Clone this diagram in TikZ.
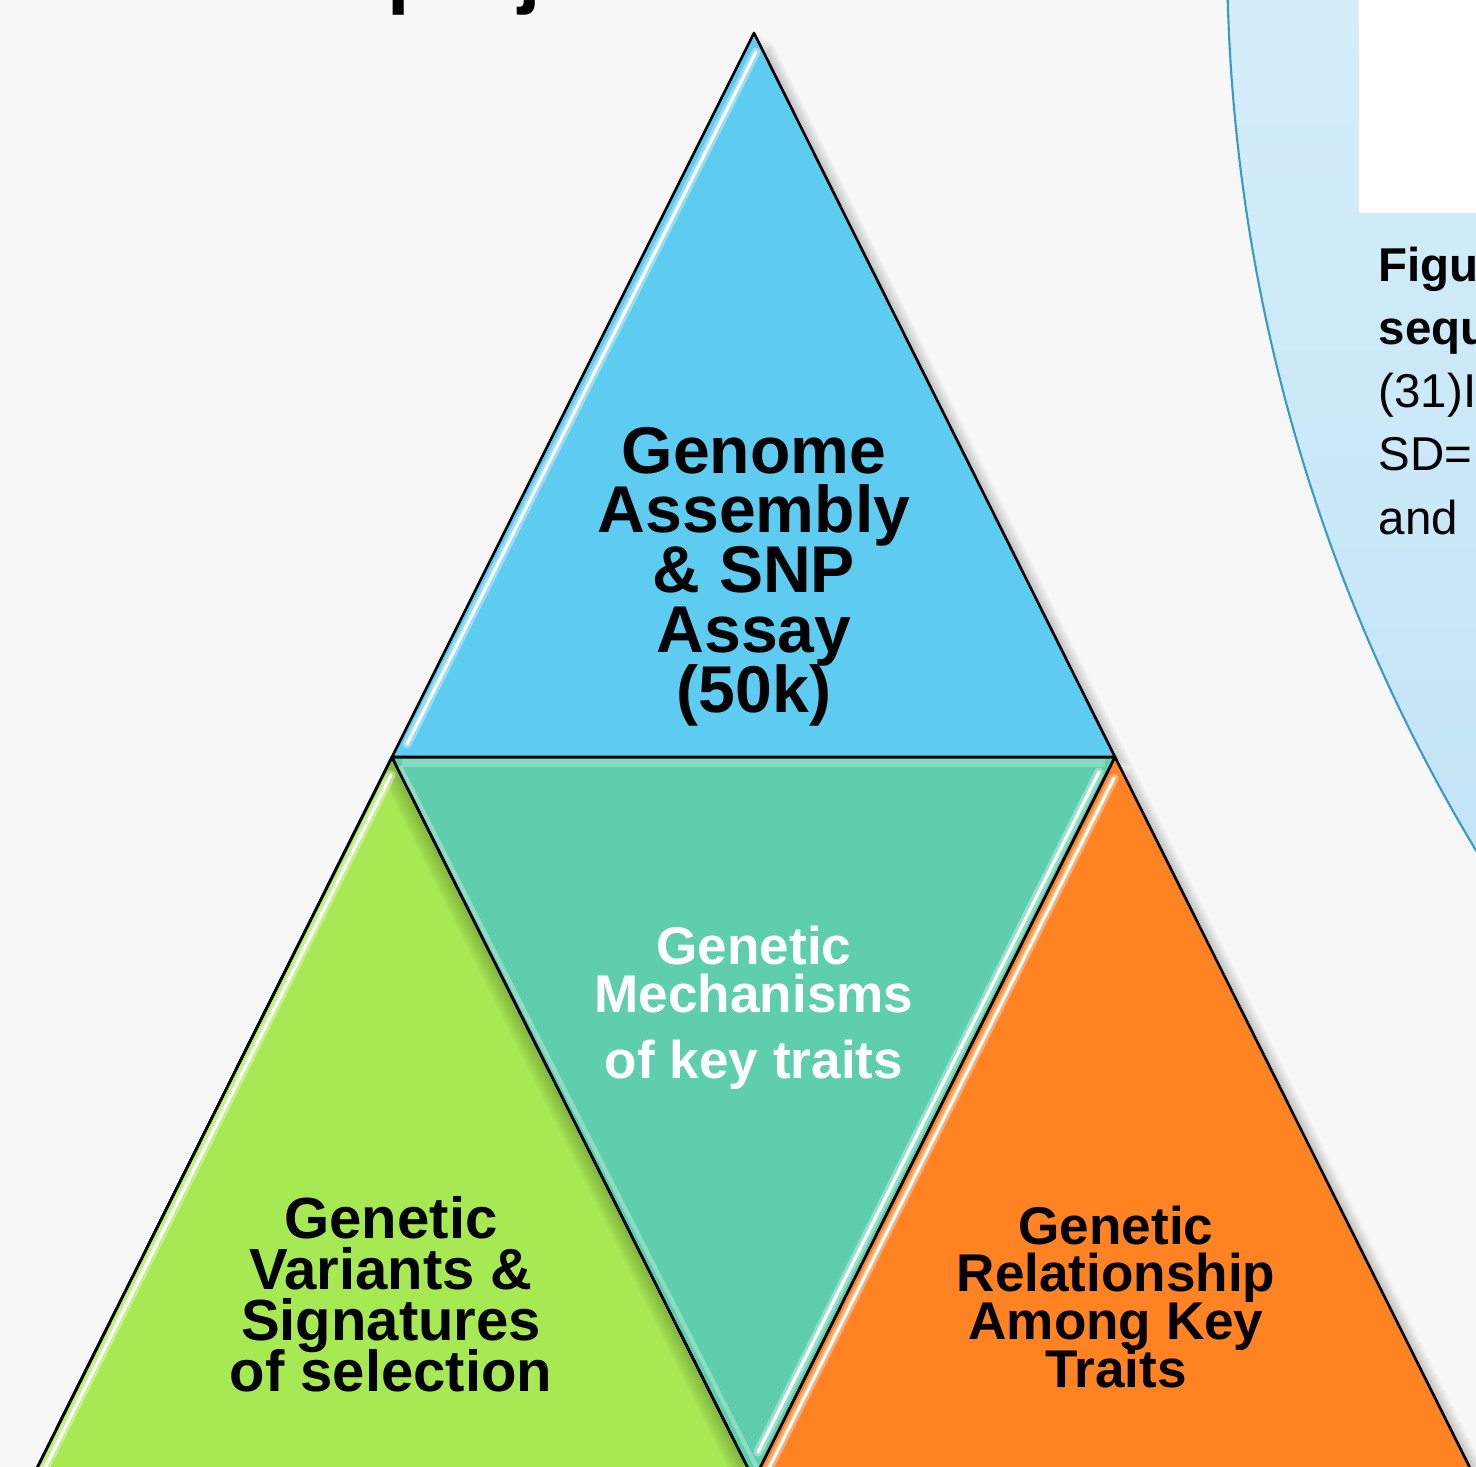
\documentclass[tikz,border=0pt]{standalone}
\usepackage{fontspec}
\setmainfont{Liberation Sans}
\usetikzlibrary{positioning}

\definecolor{pagegray}{HTML}{F7F7F7}
\definecolor{pyrblue}{HTML}{5ECBF0}
\definecolor{pyrteal}{HTML}{5ECEAE}
\definecolor{pyrgreen}{HTML}{A7E953}
\definecolor{pyrorange}{HTML}{FF8223}
\definecolor{captop}{HTML}{D4EDF9}
\definecolor{capbot}{HTML}{C2E4F7}
\definecolor{capline}{HTML}{3A9BC1}

\tikzset{
  face/.style={draw=black, line width=0.75pt, line join=round},
  gloss/.style={white, line width=0.9pt, line cap=round},
  glow/.style={white, opacity=0.35, line width=2.6pt, line cap=round},
  dropshade/.style={black, opacity=0.022},
  bigtxt/.style={anchor=base, inner sep=0pt, font=\fontsize{18.8}{18.8}\selectfont\bfseries},
  midtxt/.style={anchor=base, inner sep=0pt, font=\fontsize{16.5}{16.5}\selectfont\bfseries},
  smalltxt/.style={anchor=base, inner sep=0pt, font=\fontsize{15.1}{15.1}\selectfont\bfseries},
  captxt/.style={anchor=base west, inner sep=0pt, font=\fontsize{13.5}{13.5}\selectfont}
}

\begin{document}
\begin{tikzpicture}[x=0.01cm, y=-0.01cm]
\useasboundingbox (0,0) rectangle (1476,1467);
\clip (0,0) rectangle (1476,1467);
\fill[pagegray] (0,0) rectangle (1476,1467);

% corner points of the four triangles
\coordinate (apex) at (754,33);
\coordinate (midL) at (392,757);
\coordinate (midR) at (1115,757);
\coordinate (low)  at (754,1480);
\coordinate (botL) at (31,1480);
\coordinate (botR) at (1476,1480);

% title line above, only the descenders reach in
\node[anchor=base west, inner sep=0pt, font=\fontsize{23}{23}\selectfont\bfseries] (title) at (387,-1) {project};

% caption panel on the right
\begin{scope}
  \clip (2978,-50) circle (1751);
  \shade[top color=captop, bottom color=capbot] (1200,0) rectangle (1476,900);
\end{scope}
\draw[capline, line width=0.6pt] (2978,-50) circle (1751);
\fill[white] (1359,0) rectangle (1476,213);
\foreach \t [count=\i] in {Figu,sequ}
  \node[captxt, font=\fontsize{13.5}{13.5}\selectfont\bfseries] (cap-\i) at ({1378},{282+63*(\i-1)}) {\t};
\foreach \t [count=\i from 3] in {(31)I,SD=,and}
  \node[captxt] (cap-\i) at ({1378},{282+63*(\i-1)}) {\t};

% soft shadows
\foreach \k in {2,4,...,18} {
  \fill[dropshade] ([shift={(\k,\k/2)}]apex) -- ([shift={(\k,\k/2)}]midL) -- ([shift={(\k,\k/2)}]midR) -- cycle;
  \fill[dropshade] ([shift={(\k,\k/2)}]midR) -- ([shift={(\k,\k/2)}]botR) -- ([shift={(\k,\k/2)}]low) -- cycle;
}

% the four faces
\fill[face, fill=pyrgreen] (midL) -- (low) -- (botL) -- cycle;
\begin{scope}
  \clip (midL) -- (low) -- (botL) -- cycle;
  \foreach \k in {2,4,...,20}
    \fill[dropshade] ([shift={(-\k,0)}]midL) -- ([shift={(-\k,0)}]midR) -- ([shift={(-\k,0)}]low) -- cycle;
\end{scope}
\draw[face] (midL) -- (low) -- (botL) -- cycle;
\fill[face, fill=pyrteal] (midL) -- (midR) -- (low) -- cycle;
\fill[face, fill=pyrorange] (midR) -- (botR) -- (low) -- cycle;
\fill[face, fill=pyrblue] (apex) -- (midL) -- (midR) -- cycle;

% glossy edges
\draw[glow] (756,52) -- (407,744);
\draw[gloss] (756,52) -- (407,744);
\draw[glow] (1099,772) -- (758,1452);
\draw[gloss] (1099,772) -- (758,1452);
\draw[glow] (1114,778) -- (767,1472);
\draw[gloss] (1114,778) -- (767,1472);
\draw[glow] (391,775) -- (43,1472);
\draw[gloss] (391,775) -- (43,1472);
\draw[white, opacity=0.25, line width=2pt] (402,763) -- (1105,763);
\draw[white, opacity=0.3, line width=1.2pt] (400,766) -- (758,1470);

% labels
\foreach \t [count=\i] in {Genome,Assembly,\& SNP,Assay,{(50k)}}
  \node[bigtxt] (top-\i) at ({754},{473+59.8*(\i-1)}) {\t};
\foreach \t [count=\i] in {Genetic,Variants \&,Signatures,of selection}
  \node[midtxt] (left-\i) at ({391},{1238+51.3*(\i-1)}) {\t};
\node[smalltxt, white] (mid-1) at (754,964) {Genetic};
\node[smalltxt, white] (mid-2) at (754,1012) {Mechanisms};
\node[smalltxt, white] (mid-3) at (754,1078) {of key traits};
\foreach \t [count=\i] in {Genetic,Relationship,Among Key,Traits}
  \node[smalltxt] (right-\i) at ({1116},{1244+47.7*(\i-1)}) {\t};
\end{tikzpicture}
\end{document}
